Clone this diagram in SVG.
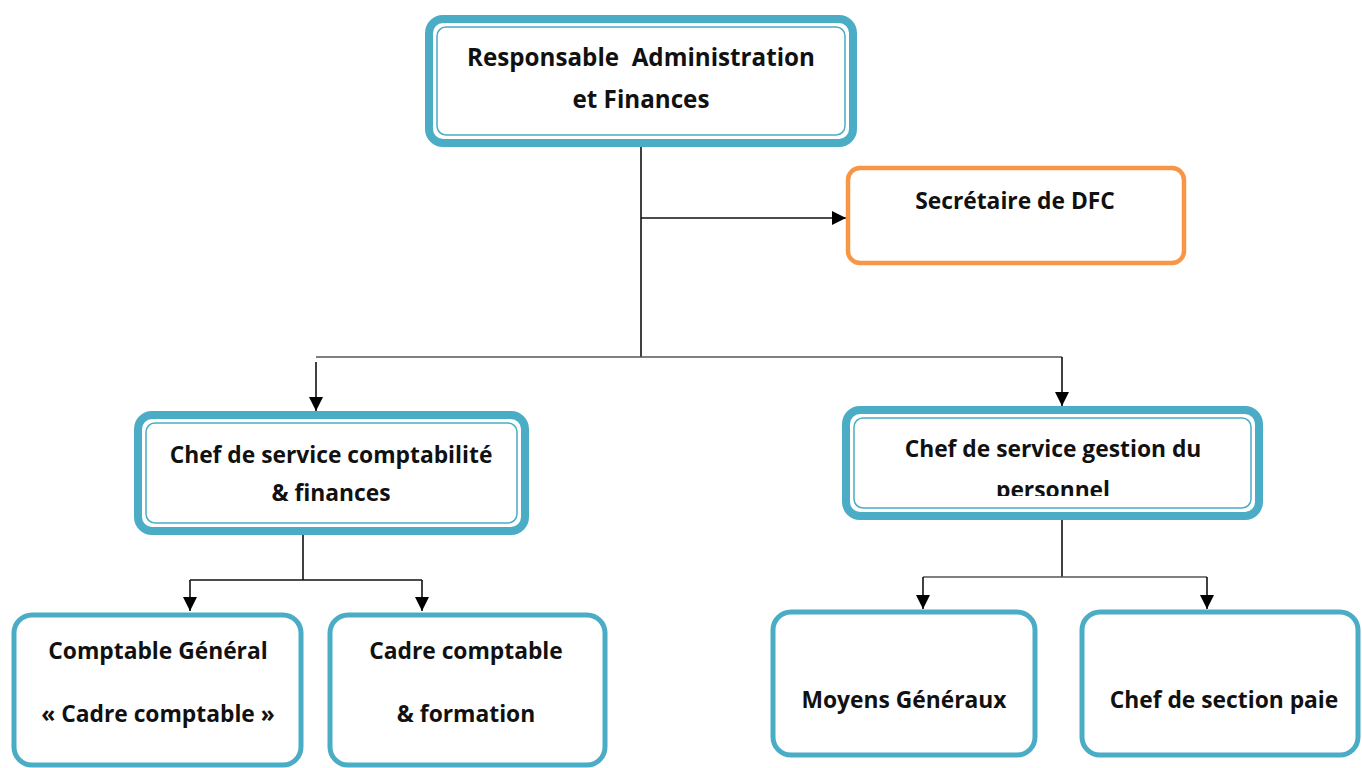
<svg xmlns="http://www.w3.org/2000/svg" width="1362" height="768" viewBox="0 0 1362 768">
  <style>
    .lbl { font-family: "Open Sans", "Noto Sans", "Liberation Sans", sans-serif; font-weight: bold; font-size: 22.8px; fill: #111; text-anchor: middle; }
    .big { font-size: 24.2px; }
    .outer { fill: #fff; stroke: #4BACC6; stroke-width: 8; }
    .inner { fill: none; stroke: #4BACC6; stroke-width: 1.5; }
    .single { fill: #fff; stroke: #4BACC6; stroke-width: 5; }
    .orange { fill: #fff; stroke: #F79646; stroke-width: 4.5; }
    .wire { fill: none; stroke: #111; stroke-width: 1.6; }
    .rail { fill: none; stroke: #555; stroke-width: 1.6; }
  </style>
  <defs>
    <marker id="head" viewBox="0 0 14 14" refX="14" refY="7" markerWidth="14" markerHeight="14" markerUnits="userSpaceOnUse" orient="auto">
      <path d="M0,0 L14,7 L0,14 z" fill="#000"/>
    </marker>
    <clipPath id="clipGp">
      <rect x="850" y="414" width="405" height="82"/>
    </clipPath>
  </defs>

  <rect width="1362" height="768" fill="#fff"/>

  <!-- connectors -->
  <g id="connectors">
    <line class="wire" x1="641" y1="146" x2="641" y2="357"/>
    <line class="wire" x1="641" y1="218" x2="846" y2="218" marker-end="url(#head)"/>
    <line class="rail" x1="316" y1="357" x2="1062" y2="357"/>
    <line class="wire" x1="316" y1="362" x2="316" y2="411" marker-end="url(#head)"/>
    <line class="wire" x1="1062" y1="357" x2="1062" y2="406" marker-end="url(#head)"/>

    <line class="wire" x1="303" y1="534" x2="303" y2="580"/>
    <line class="wire" x1="190" y1="580" x2="422" y2="580"/>
    <line class="wire" x1="190" y1="580" x2="190" y2="611" marker-end="url(#head)"/>
    <line class="wire" x1="422" y1="580" x2="422" y2="611" marker-end="url(#head)"/>

    <line class="wire" x1="1062" y1="519" x2="1062" y2="577"/>
    <line class="rail" x1="923" y1="577" x2="1207" y2="577"/>
    <line class="wire" x1="923" y1="577" x2="923" y2="609" marker-end="url(#head)"/>
    <line class="wire" x1="1207" y1="577" x2="1207" y2="609" marker-end="url(#head)"/>
  </g>

  <!-- top node -->
  <g id="raf">
    <rect class="outer" x="429" y="19" width="424" height="124" rx="14"/>
    <rect class="inner" x="437" y="27" width="408" height="108" rx="9"/>
    <text class="lbl big" x="641" y="66" xml:space="preserve">Responsable  Administration</text>
    <text class="lbl big" x="641" y="108">et Finances</text>
  </g>

  <g id="secretaire">
    <rect class="orange" x="848" y="168" width="336" height="95" rx="12"/>
    <text class="lbl" x="1015" y="209">Secrétaire de DFC</text>
  </g>

  <g id="chef-compta">
    <rect class="outer" x="138" y="415" width="387" height="116" rx="14"/>
    <rect class="inner" x="146" y="423" width="371" height="100" rx="9"/>
    <text class="lbl" x="331" y="463">Chef de service comptabilité</text>
    <text class="lbl" x="331" y="501">&amp; finances</text>
  </g>

  <g id="chef-personnel">
    <rect class="outer" x="846" y="410" width="413" height="106" rx="14"/>
    <rect class="inner" x="854" y="418" width="397" height="90" rx="9"/>
    <g clip-path="url(#clipGp)">
      <text class="lbl" x="1053" y="457">Chef de service gestion du</text>
      <text class="lbl" x="1053" y="498">personnel</text>
    </g>
  </g>

  <g id="comptable-general">
    <rect class="single" x="14" y="615" width="287" height="150" rx="18"/>
    <text class="lbl" x="158" y="659">Comptable Général</text>
    <text class="lbl" x="158" y="722">« Cadre comptable »</text>
  </g>

  <g id="cadre-comptable">
    <rect class="single" x="330" y="615" width="275" height="150" rx="18"/>
    <text class="lbl" x="466" y="659">Cadre comptable</text>
    <text class="lbl" x="466" y="722">&amp; formation</text>
  </g>

  <g id="moyens-generaux">
    <rect class="single" x="773" y="612" width="262" height="143" rx="18"/>
    <text class="lbl" x="904" y="708">Moyens Généraux</text>
  </g>

  <g id="section-paie">
    <rect class="single" x="1082" y="612" width="276" height="143" rx="18"/>
    <text class="lbl" x="1224" y="708">Chef de section paie</text>
  </g>
</svg>
